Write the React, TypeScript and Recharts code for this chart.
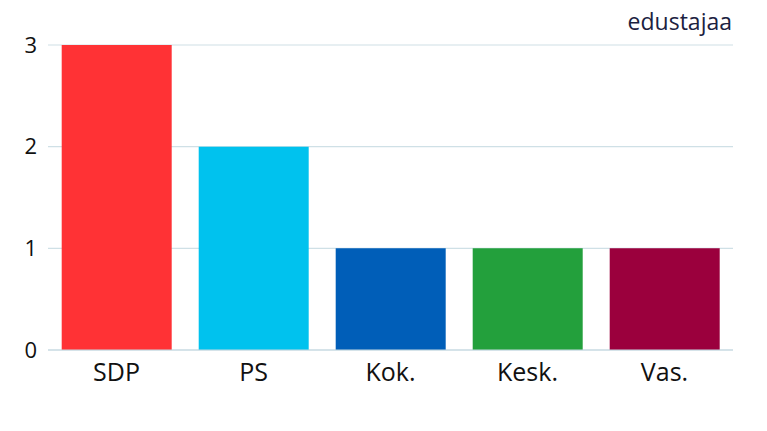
import { Bar, BarChart, CartesianGrid, Cell, XAxis, YAxis } from "recharts";

const parties = ["SDP", "PS", "Kok.", "Kesk.", "Vas."];
const seats = [3, 2, 1, 1, 1];
const partyColors = ["#ff3235", "#00c2ee", "#005eb8", "#23a03c", "#9b003d"];
const yTicks = [0, 1, 2, 3];

const data = parties.map((p, i) => ({ party: p, seats: seats[i] }));

const font = "'Open Sans', sans-serif";

export default function App() {
    return (
        <div style={{ position: "absolute", left: 0, top: 0, width: 767, height: 431, background: "#fff", fontFamily: font }}>
            <div style={{ position: "absolute", right: 35, top: 5, fontSize: 23, color: "#1b2140" }}>edustajaa</div>
            <BarChart
                width={767}
                height={431}
                data={data}
                margin={{ top: 45, right: 34, bottom: 0, left: 0 }}
                barCategoryGap="10%"
            >
                <CartesianGrid vertical={false} stroke="#cfe0e6" strokeWidth={1.2} />
                <XAxis
                    dataKey="party"
                    height={81}
                    tickLine={false}
                    axisLine={{ stroke: "#c4d8e0", strokeWidth: 1.2 }}
                    tickMargin={7}
                    interval={0}
                    tick={{ fill: "#111", fontSize: 25, fontFamily: font }}
                />
                <YAxis
                    width={48}
                    domain={[0, 3]}
                    ticks={yTicks}
                    tickLine={false}
                    axisLine={false}
                    tickMargin={5}
                    tick={{ fill: "#111", fontSize: 22, fontFamily: font }}
                />
                <Bar dataKey="seats" isAnimationActive={false}>
                    {data.map((d, i) => (
                        <Cell key={d.party} fill={partyColors[i]} />
                    ))}
                </Bar>
            </BarChart>
        </div>
    );
}
